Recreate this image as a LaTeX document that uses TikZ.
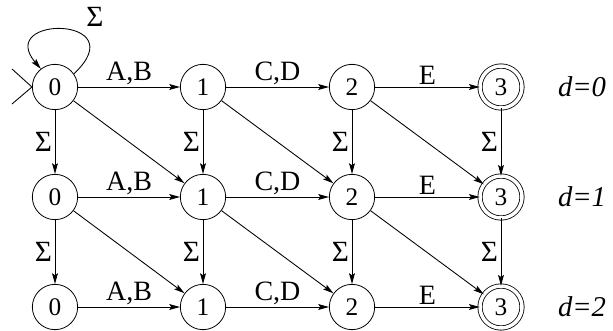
\documentclass[tikz,border=0pt]{standalone}
\usepackage{fontspec}
\setmainfont{Liberation Serif}
\usetikzlibrary{arrows.meta}
\tikzset{state/.style={circle, draw, line width=0.6pt, minimum size=34pt, inner sep=0pt,
  font=\fontsize{19}{19}\selectfont},
final/.style={state, double, double distance=2.6pt, minimum size=31.5pt},
trans/.style={line width=0.65pt, -{Stealth[length=8pt,width=4.4pt,inset=1.5pt]}},
lab/.style={font=\fontsize{21}{21}\selectfont, inner sep=1.5pt},
sig/.style={font=\fontsize{22}{22}\selectfont, inner sep=2pt},
dlab/.style={font=\fontsize{21.5}{21.5}\selectfont\itshape}}

\begin{document}
\begin{tikzpicture}[x=0.75pt, y=0.75pt]

    \useasboundingbox (0,0) rectangle (613,330);

    % states: row = distance, column = position
    \foreach \r/\y in {0/243,1/133,2/23} {
      \foreach \c/\x in {0/55,1/203,2/352}
        \node[state] (\r\c) at (\x,\y) {\c};
      \node[final] (\r3) at (501,\y) {3};
      \node[dlab] (d\r) at (582,\y) {d=\r};
    }

    % start marker and loop
    \coordinate (initA) at (12,261);
    \coordinate (initB) at (12,226);
    \draw[line width=0.65pt] (initA) -- (00.west) -- (initB);
    \draw[trans] (00.35) .. controls +(62,58) and +(-46,54) .. (00.128);
    \node[sig] (loop) at (95,313) {Σ};

    % matching steps
    \foreach \r in {0,1,2}
      \foreach \c/\n/\t in {0/1/{A,B},1/2/{C,D},2/3/E}
        \draw[trans] (\r\c) -- node[above,lab] {\t} (\r\n);

    % insertions and substitutions/deletions
    \foreach \r/\s in {0/1,1/2} {
      \foreach \c in {0,1,2,3}
        \draw[trans] (\r\c) -- node[left,sig] {Σ} (\s\c);
      \foreach \c/\n in {0/1,1/2,2/3}
        \draw[trans] (\r\c) -- (\s\n);
    }

  \end{tikzpicture}
\end{document}
